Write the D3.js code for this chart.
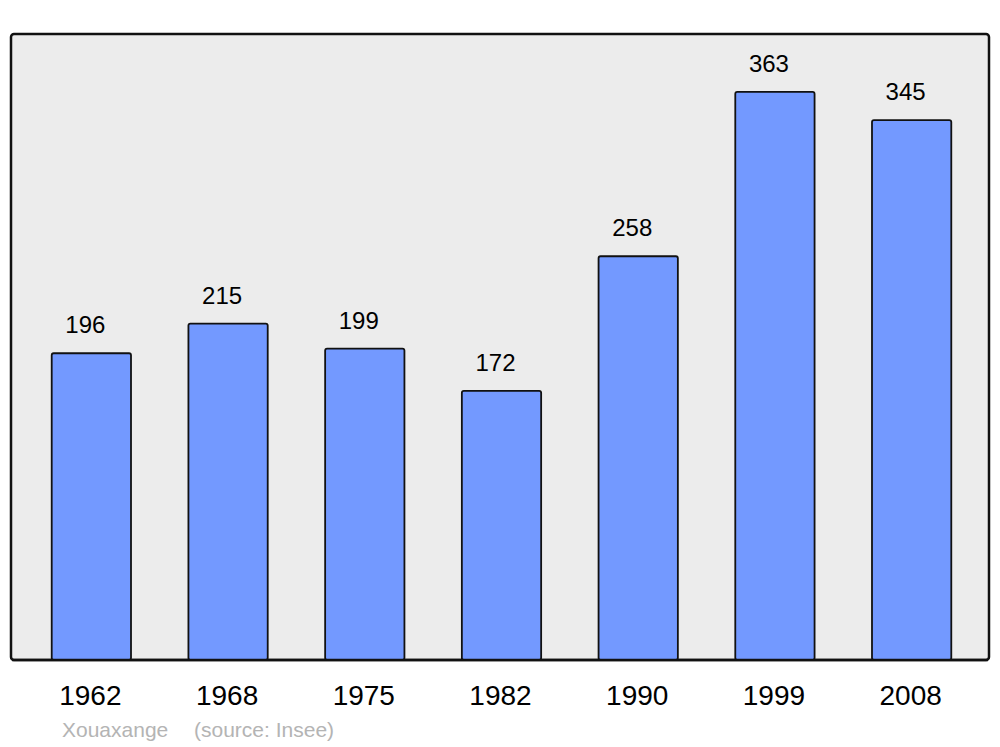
<!DOCTYPE html>
<html>
<head>
<meta charset="utf-8">
<script src="https://cdn.jsdelivr.net/npm/d3@7"></script>
<style>
  body { margin: 0; background: #fff; }
  text { font-family: "Liberation Sans", Arial, sans-serif; }
</style>
</head>
<body>
<div id="root" style="width:1000px;height:747px"></div>
<script>
var years = ["1962", "1968", "1975", "1982", "1990", "1999", "2008"];
var population = [196, 215, 199, 172, 258, 363, 345];
var commune = "Xouaxange";
var source = "(source: Insee)";

var width = 1000, height = 747;

var svg = d3.select("#root").append("svg")
    .attr("width", width)
    .attr("height", height);

// panel
svg.append("rect")
    .attr("x", 11).attr("y", 34)
    .attr("width", 978).attr("height", 626)
    .attr("rx", 3)
    .attr("fill", "#ececec")
    .attr("stroke", "#111")
    .attr("stroke-width", 2.5);

var x = d3.scaleBand()
    .domain(years)
    .range([23, 980])
    .paddingInner(0.42)
    .paddingOuter(0.21);

var y = d3.scaleLinear()
    .domain([0, 400])
    .range([660, 34]);

var data = years.map(function(yr, i) { return {year: yr, value: population[i]}; });

var bars = svg.append("g").attr("class", "bars");

bars.selectAll("rect")
    .data(data)
    .enter()
    .append("rect")
    .attr("x", function(d) { return x(d.year); })
    .attr("y", function(d) { return y(d.value); })
    .attr("width", x.bandwidth())
    .attr("height", function(d) { return y(0) - y(d.value); })
    .attr("rx", 2)
    .attr("fill", "#7399ff")
    .attr("stroke", "#111")
    .attr("stroke-width", 1.8);

// redraw baseline of panel over bar bottoms
svg.append("line")
    .attr("x1", 12).attr("x2", 988)
    .attr("y1", 660).attr("y2", 660)
    .attr("stroke", "#111")
    .attr("stroke-width", 2.5);

bars.selectAll("text.val")
    .data(data)
    .enter()
    .append("text")
    .attr("class", "val")
    .attr("x", function(d) { return x(d.year) + x.bandwidth() / 2 - 6; })
    .attr("y", function(d) { return y(d.value) - 20; })
    .attr("text-anchor", "middle")
    .attr("font-size", 24)
    .attr("fill", "#000")
    .text(function(d) { return d.value; });

var axis = d3.axisBottom(x).tickSize(0).tickPadding(0);
var ax = svg.append("g")
    .attr("transform", "translate(-1,705)")
    .call(axis);
ax.select(".domain").remove();
ax.selectAll("text")
    .attr("dy", 0)
    .attr("font-size", 28)
    .attr("fill", "#000")
    .style("font-family", "'Liberation Sans', Arial, sans-serif");

svg.append("text")
    .attr("x", 62).attr("y", 737)
    .attr("font-size", 21)
    .attr("fill", "#b4b4b4")
    .text(commune);

svg.append("text")
    .attr("x", 194).attr("y", 737)
    .attr("font-size", 21)
    .attr("fill", "#b4b4b4")
    .text(source);
</script>
</body>
</html>
